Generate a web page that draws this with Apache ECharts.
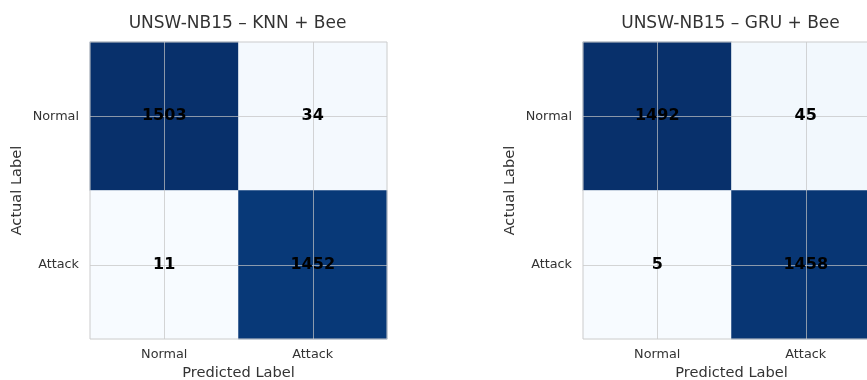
<!DOCTYPE html>
<html>
<head>
<meta charset="utf-8">
<script src="https://cdn.jsdelivr.net/npm/echarts@6/dist/echarts.min.js"></script>
<style>
  html, body { margin: 0; padding: 0; background: #ffffff; overflow: hidden; }
  #chart { width: 867px; height: 380px; }
</style>
</head>
<body>
<div id="chart"></div>
<script>
// Class labels (rows = actual, columns = predicted)
const classLabels = ['Normal', 'Attack'];

// Panel titles
const panelTitles = ['UNSW-NB15 \u2013 KNN + Bee', 'UNSW-NB15 \u2013 GRU + Bee'];

// Confusion matrices, row-major: [actual][predicted]
const knnBeeMatrix = [
  [1503, 34],
  [11, 1452]
];
const gruBeeMatrix = [
  [1492, 45],
  [5, 1458]
];

const matrices = [knnBeeMatrix, gruBeeMatrix];

// Matplotlib "Blues" colour ramp
const bluesRamp = ['#f7fbff', '#deebf7', '#c6dbef', '#9ecae1', '#6baed6',
                   '#4292c6', '#2171b5', '#08519c', '#08306b'];

const FONT = 'DejaVu Sans';
const panelLeft = [90, 583];
const panelTop = 42;
const panelSize = 297;
const gridLineStyle = { color: 'rgba(195,195,195,0.7)', width: 1 };

function toCells(m) {
  const out = [];
  m.forEach((row, r) => row.forEach((v, c) => out.push([c, r, v])));
  return out;
}

const grids = [], xAxes = [], yAxes = [], cellSeries = [], labelSeries = [], visualMaps = [], titles = [];

matrices.forEach((m, i) => {
  const flat = m.flat();
  grids.push({
    left: panelLeft[i], top: panelTop, width: panelSize, height: panelSize,
    outerBoundsMode: 'none', containLabel: false,
    show: true, borderColor: '#cccccc', borderWidth: 1,
    backgroundColor: 'transparent', z: 10
  });
  titles.push({
    text: panelTitles[i],
    left: panelLeft[i] + panelSize / 2 - 6, top: 10, textAlign: 'center',
    textStyle: { fontFamily: FONT, fontSize: 17, fontWeight: 'normal', color: '#333333' }
  });
  xAxes.push({
    type: 'category', gridIndex: i, data: classLabels, z: 5,
    name: 'Predicted Label', nameLocation: 'middle', nameGap: 27,
    nameTextStyle: { fontFamily: FONT, fontSize: 14.6, color: '#333333' },
    axisLine: { show: false }, axisTick: { show: false },
    axisLabel: { fontFamily: FONT, fontSize: 12.8, color: '#333333', margin: 9 },
    splitLine: { show: true, alignWithLabel: true, lineStyle: gridLineStyle }
  });
  yAxes.push({
    type: 'category', gridIndex: i, data: classLabels, inverse: true, z: 5,
    name: 'Actual Label', nameLocation: 'middle', nameGap: 65,
    nameTextStyle: { fontFamily: FONT, fontSize: 14.6, color: '#333333' },
    axisLine: { show: false }, axisTick: { show: false },
    axisLabel: { fontFamily: FONT, fontSize: 12.8, color: '#333333', margin: 11 },
    splitLine: { show: true, alignWithLabel: true, lineStyle: gridLineStyle }
  });
  visualMaps.push({
    show: false, seriesIndex: i, dimension: 2,
    min: Math.min(...flat), max: Math.max(...flat),
    inRange: { color: bluesRamp }
  });
  // coloured cells
  cellSeries.push({
    type: 'heatmap', xAxisIndex: i, yAxisIndex: i, z: 2,
    data: toCells(m),
    label: { show: false },
    emphasis: { disabled: true }
  });
  // count annotations, drawn above the grid lines
  labelSeries.push({
    type: 'scatter', xAxisIndex: i, yAxisIndex: i, z: 8,
    symbolSize: 0, silent: true,
    itemStyle: { opacity: 1, color: '#000000' },
    data: toCells(m),
    label: {
      show: true, position: 'inside', fontFamily: FONT, fontSize: 16, fontWeight: 'bold',
      color: '#000000', opacity: 1, textBorderWidth: 0,
      formatter: p => String(p.value[2])
    },
    emphasis: { disabled: true }
  });
});

const chart = echarts.init(document.getElementById('chart'), null, { renderer: 'canvas' });
chart.setOption({
  animation: false,
  backgroundColor: '#ffffff',
  title: titles,
  grid: grids,
  xAxis: xAxes,
  yAxis: yAxes,
  visualMap: visualMaps,
  series: cellSeries.concat(labelSeries)
});
</script>
</body>
</html>
